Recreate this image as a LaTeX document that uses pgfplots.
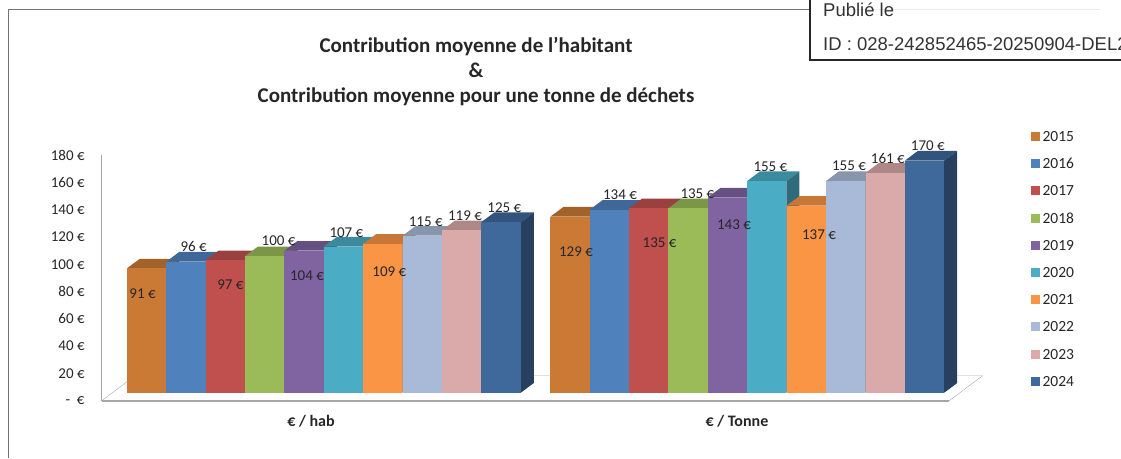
\documentclass[border=0pt]{standalone}
\usepackage{fontspec}
\setmainfont{Carlito}
\newfontfamily\pubfont{Liberation Sans}
\usepackage{pgfplots}
\pgfplotsset{compat=1.18}

\definecolor{c15}{HTML}{CB7A35}
\definecolor{c16}{HTML}{4F81BD}
\definecolor{c17}{HTML}{C0504D}
\definecolor{c18}{HTML}{9BBB59}
\definecolor{c19}{HTML}{8064A2}
\definecolor{c20}{HTML}{4BACC6}
\definecolor{c21}{HTML}{FA9545}
\definecolor{c22}{HTML}{A9BAD8}
\definecolor{c23}{HTML}{D9AAA9}
\definecolor{c24}{HTML}{3F689B}
\definecolor{floorline}{HTML}{A6A6A6}
\definecolor{txt}{HTML}{262626}

% one 3D column: x of left edge (px), value, colour
\newcommand{\dbar}[3]{%
  \pgfmathsetmacro{\xa}{#1}%
  \pgfmathsetmacro{\xb}{#1+39.4}%
  \pgfmathsetmacro{\xc}{#1+52.4}%
  \pgfmathsetmacro{\xd}{#1+13}%
  \pgfmathsetmacro{\vt}{#2+7.1}%
  \addplot[fill=#3!80!black,draw=none,forget plot,yshift=8pt] coordinates {(\xa,#2) (\xb,#2) (\xc,\vt) (\xd,\vt)} --cycle;
  \addplot[fill=#3!62!black,draw=none,forget plot,yshift=8pt] coordinates {(\xb,0) (\xc,7.1) (\xc,\vt) (\xb,#2)} --cycle;
  \addplot[fill=#3,draw=none,forget plot,yshift=8pt] coordinates {(\xa,0) (\xb,0) (\xb,#2) (\xa,#2)} --cycle;
}

\begin{document}
\begin{tikzpicture}[x=1pt,y=1pt]
\useasboundingbox (0,0) rectangle (1121,458);
\begin{axis}[
    at={(101.8pt,57.3pt)}, anchor=origin,
    scale only axis, width=847.5pt, height=245.7pt,
    xmin=101.8, xmax=949.3, ymin=0, ymax=180,
    clip=false,
    axis x line=bottom, axis y line=left,
    x axis line style={-,floorline,line width=1.6pt},
    y axis line style={-,floorline,line width=1pt},
    major tick length=0pt,
    xtick={311,737}, xticklabels={€ / hab,€ / Tonne},
    x tick label style={font=\fontsize{16}{16}\selectfont\bfseries,text=txt,yshift=-11.5pt},
    ytick={0,20,...,180},
    yticklabels={-\ \ €,20 €,40 €,60 €,80 €,100 €,120 €,140 €,160 €,180 €},
    y tick label style={font=\fontsize{15}{15}\selectfont,text=txt,inner sep=0pt,xshift=-17pt},
    legend style={at={(axis cs:1030.4,197.3)},anchor=north west,draw=none,fill=none,
      font=\fontsize{15.5}{15.5}\selectfont,text=txt,row sep=17.2pt,inner sep=0pt,column sep=3pt,
      nodes={inner sep=0pt,text height=10pt,text depth=0pt}},
    legend cell align=left,
    legend image code/.code={\path[#1,draw=none] (0pt,-4.5pt) rectangle (9pt,4.5pt);},
]
% floor
\addplot[draw=floorline,fill=none,forget plot] coordinates {(101.8,0) (949.3,0) (982.6,18.3) (135,18.3)} --cycle;

% € / hab
\dbar{126.8}{91}{c15}
\dbar{166.2}{96}{c16}
\dbar{205.6}{97}{c17}
\dbar{245.0}{100}{c18}
\dbar{284.4}{104}{c19}
\dbar{323.7}{107}{c20}
\dbar{363.0}{109}{c21}
\dbar{402.5}{115}{c22}
\dbar{442.0}{119}{c23}
\dbar{481.4}{125}{c24}

% € / Tonne
\dbar{550.4}{129}{c15}
\dbar{589.6}{134}{c16}
\dbar{628.9}{135}{c17}
\dbar{668.2}{135}{c18}
\dbar{707.6}{143}{c19}
\dbar{747.0}{155}{c20}
\dbar{786.6}{137}{c21}
\dbar{825.9}{155}{c22}
\dbar{865.5}{161}{c23}
\dbar{904.8}{170}{c24}

\addlegendimage{fill=c15}\addlegendentry{2015}
\addlegendimage{fill=c16}\addlegendentry{2016}
\addlegendimage{fill=c17}\addlegendentry{2017}
\addlegendimage{fill=c18}\addlegendentry{2018}
\addlegendimage{fill=c19}\addlegendentry{2019}
\addlegendimage{fill=c20}\addlegendentry{2020}
\addlegendimage{fill=c21}\addlegendentry{2021}
\addlegendimage{fill=c22}\addlegendentry{2022}
\addlegendimage{fill=c23}\addlegendentry{2023}
\addlegendimage{fill=c24}\addlegendentry{2024}
\end{axis}

% value labels, px from the left / px from the top
\foreach \x/\y/\t in {142.5/293.7/91,193.6/246.7/96,230.4/285/97,278.6/241/100,307/275.7/104,
    346.4/232.3/107,389.3/271.3/109,425.7/221.7/115,465/216/119,504.3/207.3/125,
    576/252/129,620/194.7/134,659.6/242.3/135,697.4/194/135,734/224.3/143,
    770.4/166.3/155,819/235/137,849/165.7/155,887.8/158.3/161,927.8/146/170}
  \node[inner sep=0pt,text=txt,font=\fontsize{15}{15}\selectfont] at (\x,458-\y) {\t\ €};

% title
\node[anchor=base,inner sep=0pt,font=\fontsize{21}{21}\selectfont\bfseries,text=black!85] at (476,458-52.5) {Contribution moyenne de l'habitant};
\node[anchor=base,inner sep=0pt,font=\fontsize{21}{21}\selectfont\bfseries,text=black!85] at (476,458-77.5) {\&};
\node[anchor=base,inner sep=0pt,font=\fontsize{21}{21}\selectfont\bfseries,text=black!85] at (476,458-102.5) {Contribution moyenne pour une tonne de déchets};

% page frame and stamp box
\draw[black!55,line width=1pt] (8,0) -- (8,448) -- (810,448);
\fill[white] (810,398) rectangle (1121,458);
\draw[black!8,line width=1pt] (830,448) -- (1100,448);
\draw[black!85,line width=2.5pt] (810,458) -- (810,398) -- (1121,398);
\begin{scope}
\clip (812,400) rectangle (1121,458);
\node[anchor=base west,inner sep=0pt,font=\pubfont\fontsize{18.5}{18.5}\selectfont,text=black!80] at (823,458-16.5) {Publié le};
\node[anchor=base west,inner sep=0pt,font=\pubfont\fontsize{18.5}{18.5}\selectfont,text=black!80] at (823,458-51) {ID : 028-242852465-20250904-DEL2};
\end{scope}
\end{tikzpicture}
\end{document}
